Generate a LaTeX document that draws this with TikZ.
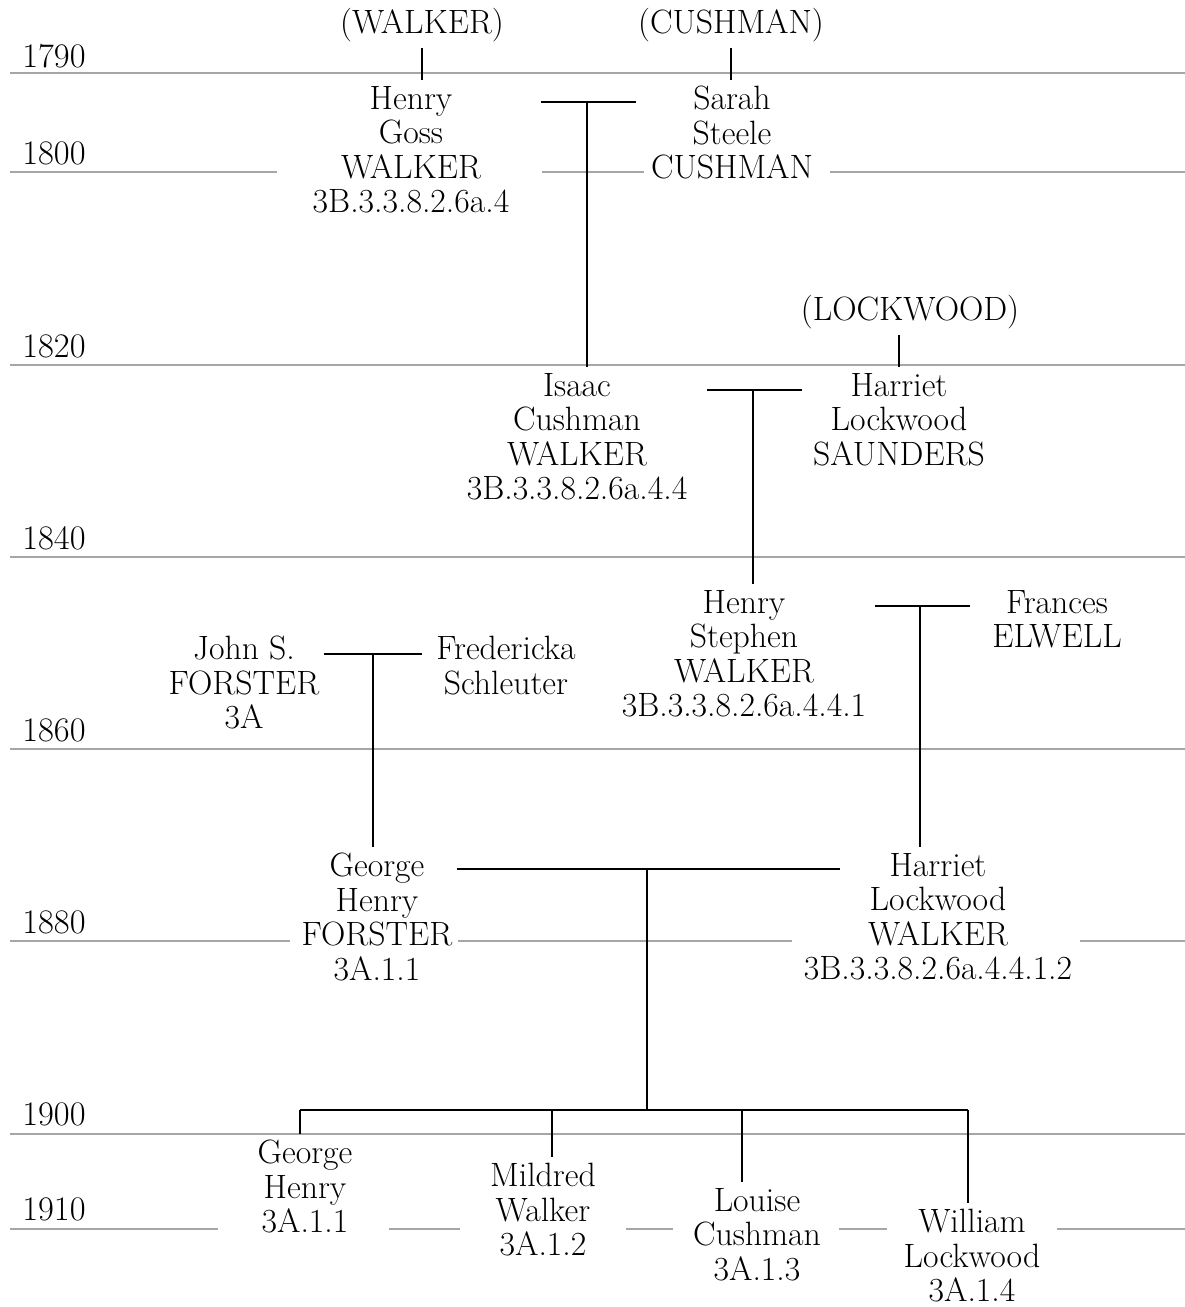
\documentclass[tikz,border=0pt]{standalone}
\usepackage{tikz}

\tikzset{
  person/.style={align=center, anchor=north, inner sep=3.4pt,
    font=\fontsize{19.2}{19.6}\selectfont},
  parent/.style={inner sep=3.4pt, font=\fontsize{19.2}{19.6}\selectfont},
  year/.style={anchor=base west, inner sep=0pt, font=\fontsize{19.6}{19.6}\selectfont},
  yearline/.style={black!35, line width=1.4pt},
  tie/.style={line width=1.2pt},
}

\begin{document}
\begin{tikzpicture}[x=0.02cm, y=-0.02cm]
    \useasboundingbox (0, 0) rectangle (1185, 1307);
    % year lines
    \foreach \y/\xa/\xb in {73/10/1185, 172/10/277, 172/542/644, 172/830/1185,
        365/10/1185, 557/10/1185, 749/10/1185, 941/10/290, 941/458/792,
        941/1080/1185, 1134/10/1185, 1229/10/218, 1229/389/460, 1229/626/673,
        1229/839/887, 1229/1057/1185}
      \draw [yearline] (\xa, \y) -- (\xb, \y);
    \foreach \yr/\y in {1790/68, 1800/165, 1820/357, 1840/549, 1860/741,
        1880/933, 1900/1125, 1910/1220}
      \node [year] (y\yr) at (22, \y) {\yr};
    % Walker - Cushman
    \node [parent]  (pwalker)  at (422, 25) {(WALKER)};
    \node [parent]  (pcushman) at (731, 25) {(CUSHMAN)};
    \node [person]  (henryG)   at (411, 80) {Henry\\Goss\\WALKER\\3B.3.3.8.2.6a.4};
    \node [person]  (sarah)    at (732, 80) {Sarah\\Steele\\CUSHMAN};
    \draw [tie]     (pwalker.south) -- (pwalker.south |- henryG.north);
    \draw [tie]     (pcushman.south) -- (pcushman.south |- sarah.north);
    \coordinate (m1) at (587, 102);
    \draw [tie]     (541, 102) -- (636, 102);
    % Walker - Saunders
    \node [parent]  (plockwood) at (910, 312) {(LOCKWOOD)};
    \node [person]  (isaac)     at (577, 367) {Isaac\\Cushman\\WALKER\\3B.3.3.8.2.6a.4.4};
    \node [person]  (harrietS)  at (899, 367) {Harriet\\Lockwood\\SAUNDERS};
    \draw [tie]     (m1) -- (m1 |- isaac.north);
    \draw [tie]     (harrietS.north |- plockwood.south) -- (harrietS.north);
    \coordinate (m2) at (753, 390);
    \draw [tie]     (707, 390) -- (802, 390);
    % Walker - Elwell
    \node [person]  (henryS)  at (744, 584) {Henry\\Stephen\\WALKER\\3B.3.3.8.2.6a.4.4.1};
    \node [person]  (frances) at (1057, 584) {Frances\\ELWELL};
    \draw [tie]     (m2) -- (m2 |- henryS.north);
    \coordinate (m3) at (920, 606);
    \draw [tie]     (875, 606) -- (970, 606);
    % Forster - Schleuter
    \node [person]  (john)       at (244, 630) {John S.\\FORSTER\\3A};
    \node [person]  (fredericka) at (506, 630) {Fredericka\\Schleuter};
    \coordinate (m4) at (373, 654);
    \draw [tie]     (324, 654) -- (422, 654);
    % Forster - Walker
    \node [person]  (georgeF)  at (377, 847) {George\\Henry\\FORSTER\\3A.1.1};
    \node [person]  (harrietW) at (938, 847) {Harriet\\Lockwood\\WALKER\\3B.3.3.8.2.6a.4.4.1.2};
    \draw [tie]     (m3) -- (m3 |- harrietW.north);
    \draw [tie]     (m4) -- (m4 |- georgeF.north);
    \coordinate (m5) at (647, 869);
    \coordinate (kids) at (647, 1110);
    \draw [tie]     (457, 869) -- (840, 869);
    \draw [tie]     (m5) -- (kids);
    % children
    \node [person]  (georgeH) at (305, 1134) {George\\Henry\\3A.1.1};
    \node [person]  (mildred) at (543, 1157) {Mildred\\Walker\\3A.1.2};
    \node [person]  (louise)  at (757, 1182) {Louise\\Cushman\\3A.1.3};
    \node [person]  (william) at (972, 1203) {William\\Lockwood\\3A.1.4};
    \draw [tie]     (300, 1110) -- (968, 1110);
    \foreach \k/\x in {georgeH/300, mildred/552, louise/742, william/968}
      \draw [tie]   (\x, 1110) -- (\x, 1110 |- \k.north);
  \end{tikzpicture}
\end{document}
